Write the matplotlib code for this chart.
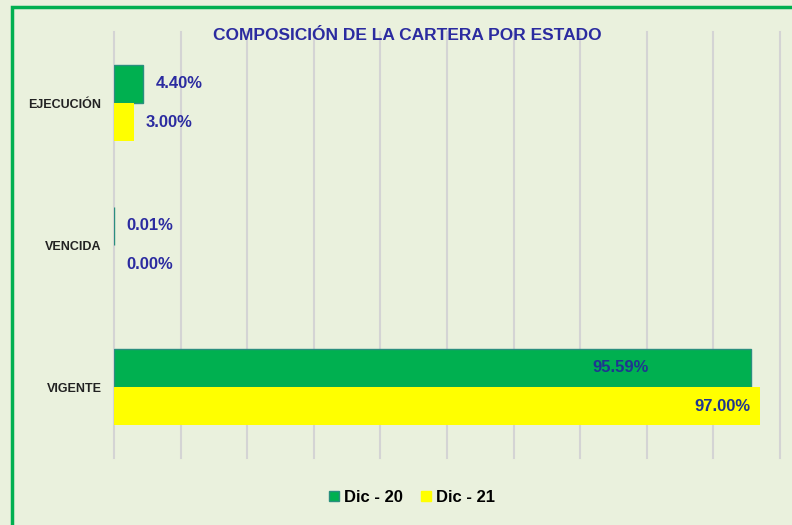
import matplotlib
matplotlib.use("Agg")
import matplotlib.pyplot as plt
import numpy as np
from matplotlib.patches import Rectangle
from matplotlib.lines import Line2D

categories = ["EJECUCIÓN", "VENCIDA", "VIGENTE"]
dic20 = [4.40, 0.01, 95.59]
dic21 = [3.00, 0.00, 97.00]
series_names = ["Dic - 20", "Dic - 21"]

BG = "#EAF1DD"
GREEN = "#00B050"
GREEN_EDGE = "#2A8F7E"
YELLOW = "#FFFF00"
NAVY = "#2B2BA0"

plt.rcParams["font.family"] = ["Liberation Sans", "DejaVu Sans"]

fig = plt.figure(figsize=(7.92, 5.25), dpi=100, facecolor=BG)
ax = fig.add_axes([114/792, 1-458/525, (780-114)/792, (458-32)/525])
ax.set_facecolor(BG)

y = np.arange(len(categories))
h = 0.268
ax.barh(y - h/2, dic20, height=h, color=GREEN, edgecolor=GREEN_EDGE, linewidth=1.0, zorder=3)
ax.barh(y + h/2, dic21, height=h, color=YELLOW, linewidth=0, zorder=3)

ax.set_xlim(0, 100)
ax.set_ylim(len(categories) - 0.5, -0.5)
ax.set_xticks(np.arange(0, 101, 10))
ax.xaxis.grid(True, color="#D4D4D4", linewidth=1.5, zorder=0)
for gl in ax.get_xgridlines():
    gl.set_clip_on(False)
ax.tick_params(axis="x", length=0, labelbottom=False)
ax.set_yticks(y)
ax.set_yticklabels(categories, fontsize=9, fontweight="bold", color="#222222")
ax.tick_params(axis="y", length=0, pad=9)
for s in ax.spines.values():
    s.set_visible(False)

# value labels
FS = 12
for i, (a, b) in enumerate(zip(dic20, dic21)):
    if a > 50:
        ax.annotate(f"{a:.2f}%", (a, i - h/2), xytext=(-102, 0), textcoords="offset pixels",
                    ha="right", va="center", fontsize=FS, fontweight="bold", color="#1F3590", zorder=5)
    else:
        ax.annotate(f"{a:.2f}%", (a, i - h/2), xytext=(12, 0), textcoords="offset pixels",
                    ha="left", va="center", fontsize=FS, fontweight="bold", color=NAVY, zorder=5)
    if b > 50:
        ax.annotate(f"{b:.2f}%", (b, i + h/2), xytext=(-10, 0), textcoords="offset pixels",
                    ha="right", va="center", fontsize=FS, fontweight="bold", color="#1F3590", zorder=5)
    else:
        ax.annotate(f"{b:.2f}%", (b, i + h/2), xytext=(12, 0), textcoords="offset pixels",
                    ha="left", va="center", fontsize=FS, fontweight="bold", color=NAVY, zorder=5)

fig.text(407/792, 1-35/525, "COMPOSICIÓN DE LA CARTERA POR ESTADO", ha="center", va="center",
         fontsize=12.5, fontweight="bold", color=NAVY)

handles = [Line2D([], [], marker="s", linestyle="none", markersize=6.5, markerfacecolor=GREEN,
                  markeredgecolor=GREEN_EDGE, markeredgewidth=1),
           Line2D([], [], marker="s", linestyle="none", markersize=6.5, markerfacecolor=YELLOW,
                  markeredgecolor=YELLOW)]
fig.legend(handles, series_names, loc="center", bbox_to_anchor=(411/792, 1-497/525), ncol=2,
           frameon=False, handletextpad=0.2, columnspacing=1.0, handlelength=0.8,
           prop={"weight": "bold", "size": 12})

fig.patches.append(Rectangle((12/792, -0.05), 1.1, 1.05 - 7/525, transform=fig.transFigure,
                             fill=False, edgecolor=GREEN, linewidth=2.5, zorder=10))

fig.savefig("out.png", dpi=100, facecolor=BG)
